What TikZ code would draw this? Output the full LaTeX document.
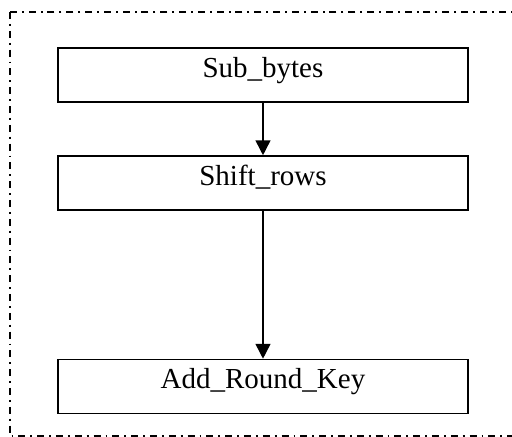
\documentclass[tikz,border=0pt]{standalone}
\usepackage{fontspec}
\setmainfont{Liberation Serif}
\usetikzlibrary{arrows.meta}

\begin{document}
\begin{tikzpicture}[x=0.02cm, y=-0.02cm, >={Triangle[length=8.5pt,width=8.5pt]},
    stage/.style={draw, line width=0.9pt, minimum width=8.2cm, inner sep=0pt,
        text height=0.58cm, text depth=0.5cm, font=\fontsize{16.5}{20}\selectfont},
    frame/.style={line width=0.6pt, dash pattern=on 4pt off 2.8pt on 1.1pt off 2.8pt}]
    % --- Definitions ---
    \def\midX{263}   % centre line of the stages

    \useasboundingbox (0,0) rectangle (512,437);

    % --- Outer frame ---
    \draw[frame] (10,12) rectangle (520,436);

    % --- Stages ---
    \node[stage] (sub)   at (\midX,75)    {Sub\_bytes};
    \node[stage] (shift) at (\midX,183)   {Shift\_rows};
    \node[stage] (key)   at (\midX,386.5) {Add\_Round\_Key};

    % --- Arrows ---
    \draw[->, line width=0.9pt] (sub) -- (shift);
    \draw[->, line width=0.9pt] (shift) -- (key);

\end{tikzpicture}
\end{document}
